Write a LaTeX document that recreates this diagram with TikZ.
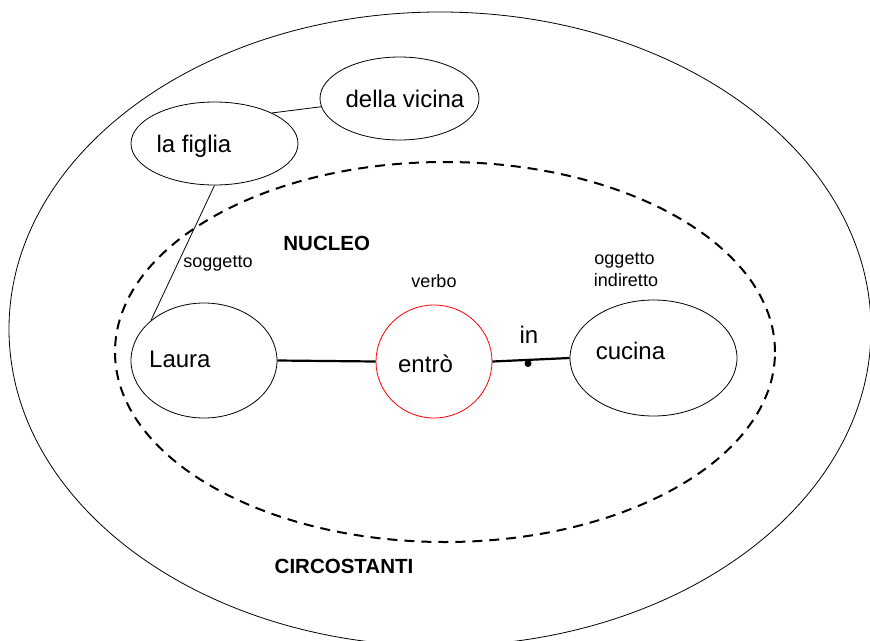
\documentclass[tikz,border=0pt]{standalone}
\usepackage{fontspec}
\setmainfont{Liberation Sans}
\usetikzlibrary{shapes.geometric}
\begin{document}
\begin{tikzpicture}[x=1pt,y=-1pt,
  blob/.style={draw=black,ellipse,line width=0.8pt,inner sep=0pt},
  bigtxt/.style={anchor=base,inner sep=0pt,font=\fontsize{24}{27}\selectfont},
  smalltxt/.style={anchor=base,inner sep=0pt,font=\fontsize{18}{20}\selectfont},
  boldtxt/.style={anchor=base,inner sep=0pt,font=\fontsize{20.5}{22}\selectfont\bfseries},
  thin/.style={draw=black,line width=0.8pt},
  thick/.style={draw=black,line width=2.2pt},
  dotnode/.style={circle,fill=black,inner sep=0pt,minimum size=7pt}]
\useasboundingbox (0,0) rectangle (870,640);
% outer and nucleus regions
\node[draw=black,line width=0.8pt,ellipse,inner sep=0pt,minimum width=862pt,minimum height=634pt] (outer) at (440,329) {};
\node[draw=black,ellipse,dashed,dash pattern=on 10pt off 7pt,line width=2pt,inner sep=0pt,minimum width=660pt,minimum height=380pt] (nucleo) at (445,352) {};
% ellipses
\node[blob,minimum width=146pt,minimum height=115pt] (laura) at (204,360.5) {};
\node[blob,draw=red,minimum width=116pt,minimum height=113pt] (entro) at (434,361.5) {};
\node[blob,minimum width=167pt,minimum height=116pt] (cucina) at (653.5,358) {};
\node[blob,minimum width=167pt,minimum height=83pt] (figlia) at (214.5,143.5) {};
\node[blob,minimum width=159pt,minimum height=83pt] (vicina) at (399.5,98.5) {};
% texts in ellipses
\node[bigtxt,anchor=base west] (tlaura) at (149,367) {Laura};
\node[bigtxt] (tentro) at (425.5,372) {entrò};
\node[bigtxt] (tcucina) at (630.5,359) {cucina};
\node[bigtxt] (tfiglia) at (194,152) {la figlia};
\node[bigtxt] (tvicina) at (405,107) {della vicina};
% labels
\node[smalltxt] (lsogg) at (218,267) {soggetto};
\node[smalltxt] (lverbo) at (434,287) {verbo};
\node[smalltxt] (logg1) at (624.5,264) {oggetto};
\node[smalltxt] (logg2) at (626,286.5) {indiretto};
\node[bigtxt] (lin) at (529,343) {in};
\node[boldtxt] (lnucleo) at (326.7,250) {NUCLEO};
\node[boldtxt] (lcirc) at (344,573) {CIRCOSTANTI};
% connectors
\draw[thick] (laura.east) -- (entro.west);
\draw[thick] (entro.east) -- (cucina.west);
\node[dotnode] (indot) at (528,363.5) {};
\draw[thin] (figlia.south) -- (laura.143);
\draw[thin] (figlia.28) -- (vicina.186);
\end{tikzpicture}
\end{document}
